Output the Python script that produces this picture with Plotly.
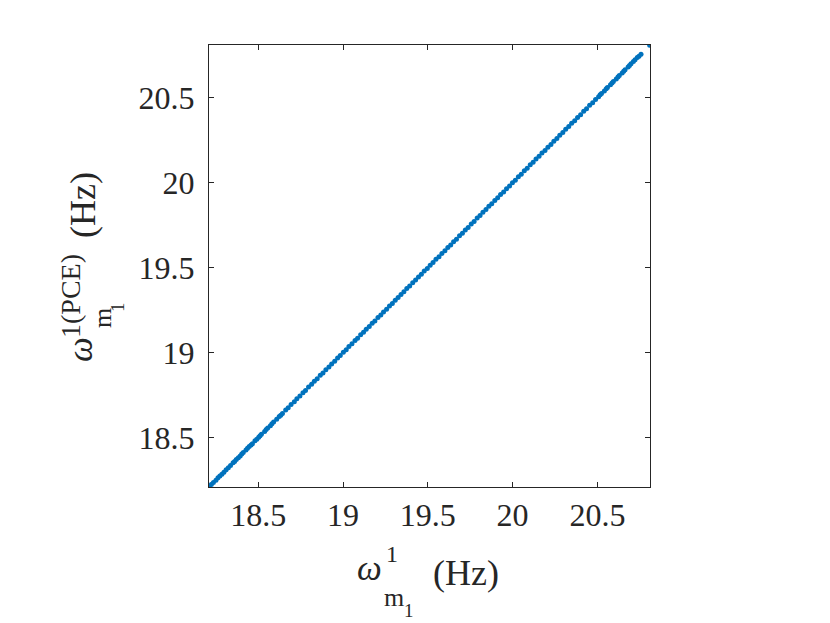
import plotly.graph_objects as go

# true natural frequency samples vs PCE surrogate prediction (Hz)
omega_true = [18.213, 18.224, 18.236, 18.251, 18.263, 18.274, 18.286, 18.298, 18.311, 18.324, 18.337, 18.352,
              18.361, 18.371, 18.383, 18.394, 18.403, 18.412, 18.428, 18.437, 18.447, 18.458, 18.466, 18.481,
              18.492, 18.503, 18.511, 18.519, 18.538, 18.547, 18.556, 18.572, 18.581, 18.591, 18.609, 18.624,
              18.633, 18.643, 18.662, 18.677, 18.694, 18.713, 18.728, 18.746, 18.764, 18.779, 18.797, 18.815,
              18.831, 18.848, 18.866, 18.882, 18.899, 18.917, 18.933, 18.951, 18.968, 18.984, 19.002, 19.019,
              19.035, 19.053, 19.071, 19.086, 19.104, 19.121, 19.137, 19.155, 19.172, 19.188, 19.206, 19.223,
              19.239, 19.257, 19.274, 19.291, 19.308, 19.325, 19.342, 19.359, 19.376, 19.393, 19.411, 19.428,
              19.445, 19.462, 19.479, 19.497, 19.514, 19.531, 19.548, 19.566, 19.583, 19.601, 19.618, 19.635,
              19.652, 19.669, 19.687, 19.704, 19.721, 19.738, 19.756, 19.773, 19.791, 19.808, 19.825, 19.843,
              19.860, 19.877, 19.895, 19.912, 19.929, 19.947, 19.964, 19.982, 19.999, 20.016, 20.034, 20.051,
              20.069, 20.086, 20.104, 20.121, 20.138, 20.156, 20.173, 20.191, 20.208, 20.226, 20.243, 20.261,
              20.278, 20.296, 20.313, 20.331, 20.348, 20.366, 20.383, 20.401, 20.419, 20.436, 20.454, 20.472,
              20.489, 20.507, 20.516, 20.524, 20.541, 20.552, 20.559, 20.577, 20.586, 20.594, 20.611, 20.621,
              20.629, 20.646, 20.655, 20.663, 20.681, 20.689, 20.698, 20.712, 20.722, 20.735, 20.745, 20.757,
              20.808]
omega_pce = [18.212, 18.225, 18.237, 18.250, 18.264, 18.275, 18.285, 18.297, 18.312, 18.323, 18.336, 18.353,
             18.360, 18.372, 18.382, 18.393, 18.404, 18.413, 18.427, 18.438, 18.448, 18.457, 18.465, 18.482,
             18.491, 18.502, 18.512, 18.520, 18.537, 18.548, 18.557, 18.571, 18.582, 18.592, 18.608, 18.625,
             18.632, 18.642, 18.663, 18.676, 18.695, 18.712, 18.729, 18.745, 18.765, 18.778, 18.798, 18.814,
             18.832, 18.847, 18.867, 18.881, 18.900, 18.916, 18.934, 18.950, 18.969, 18.983, 19.003, 19.018,
             19.036, 19.052, 19.072, 19.085, 19.105, 19.120, 19.138, 19.154, 19.173, 19.187, 19.207, 19.222,
             19.240, 19.256, 19.275, 19.290, 19.309, 19.324, 19.343, 19.358, 19.377, 19.392, 19.412, 19.427,
             19.446, 19.461, 19.480, 19.496, 19.515, 19.530, 19.549, 19.565, 19.584, 19.600, 19.619, 19.634,
             19.653, 19.668, 19.688, 19.703, 19.722, 19.737, 19.757, 19.772, 19.792, 19.807, 19.826, 19.842,
             19.861, 19.876, 19.896, 19.911, 19.930, 19.946, 19.965, 19.981, 20.000, 20.015, 20.035, 20.050,
             20.070, 20.085, 20.105, 20.120, 20.139, 20.155, 20.174, 20.190, 20.209, 20.225, 20.244, 20.260,
             20.279, 20.295, 20.314, 20.330, 20.349, 20.365, 20.384, 20.400, 20.420, 20.435, 20.455, 20.471,
             20.490, 20.506, 20.517, 20.525, 20.540, 20.553, 20.560, 20.576, 20.587, 20.595, 20.610, 20.622,
             20.630, 20.645, 20.656, 20.664, 20.680, 20.690, 20.699, 20.713, 20.723, 20.736, 20.744, 20.756,
             20.809]

tick_vals = [18.5, 19, 19.5, 20, 20.5]
tick_text = ["18.5", "19", "19.5", "20", "20.5"]
axis_range = [18.21, 20.81]

# page has an 8px body margin, so the figure is drawn 8px in from the corner
OFF = 8
W, H = 830, 623
L, R, T, B = 209 - OFF, 180 + OFF, 45 - OFF, 136 + OFF
FONT = "Liberation Serif"
INK = "#262626"

fig = go.Figure()
fig.add_trace(go.Scatter(
    x=omega_true, y=omega_pce, mode="markers",
    marker=dict(color="#0072BD", size=5, line=dict(width=0)),
    showlegend=False,
))

axis_style = dict(
    range=axis_range, tickvals=tick_vals, ticktext=tick_text,
    ticks="inside", ticklen=5, tickcolor=INK, tickwidth=1,
    showline=True, linecolor=INK, linewidth=1, mirror="ticks",
    showgrid=False, zeroline=False,
    tickfont=dict(family=FONT, size=32, color=INK),
)
fig.update_xaxes(**axis_style)
fig.update_yaxes(ticklabelstandoff=7, **axis_style)


def px(x, y):
    # page pixels (as in the reference) -> paper coords
    x -= OFF
    y -= OFF
    return (x - L) / (W - L - R), 1 - (y - T) / (H - T - B)


def label(text, x, y, size, angle=0):
    xp, yp = px(x, y)
    fig.add_annotation(text=text, x=xp, y=yp, xref="paper", yref="paper",
                       showarrow=False, textangle=angle, xanchor="center", yanchor="middle",
                       font=dict(family=FONT, size=size, color=INK))


# x-axis label: omega^1_{m_1} (Hz)
label("<i>ω</i>", 369, 568, 35)
label("1", 392, 554, 24)
label("m", 394, 597, 26)
label("1", 409, 610, 19)
label("(Hz)", 466, 573, 36)

# y-axis label: omega^{1(PCE)}_{m_1} (Hz)
label("<i>ω</i>", 80, 350, 35, -90)
label("1(PCE)", 70, 296, 28, -90)
label("m", 102, 318, 26, -90)
label("1", 117, 307, 19, -90)
label("(Hz)", 83, 205, 36, -90)

fig.update_layout(
    width=W, height=H,
    margin=dict(l=L, r=R, t=T, b=B),
    plot_bgcolor="white", paper_bgcolor="white",
)

fig.write_html("out.html")
